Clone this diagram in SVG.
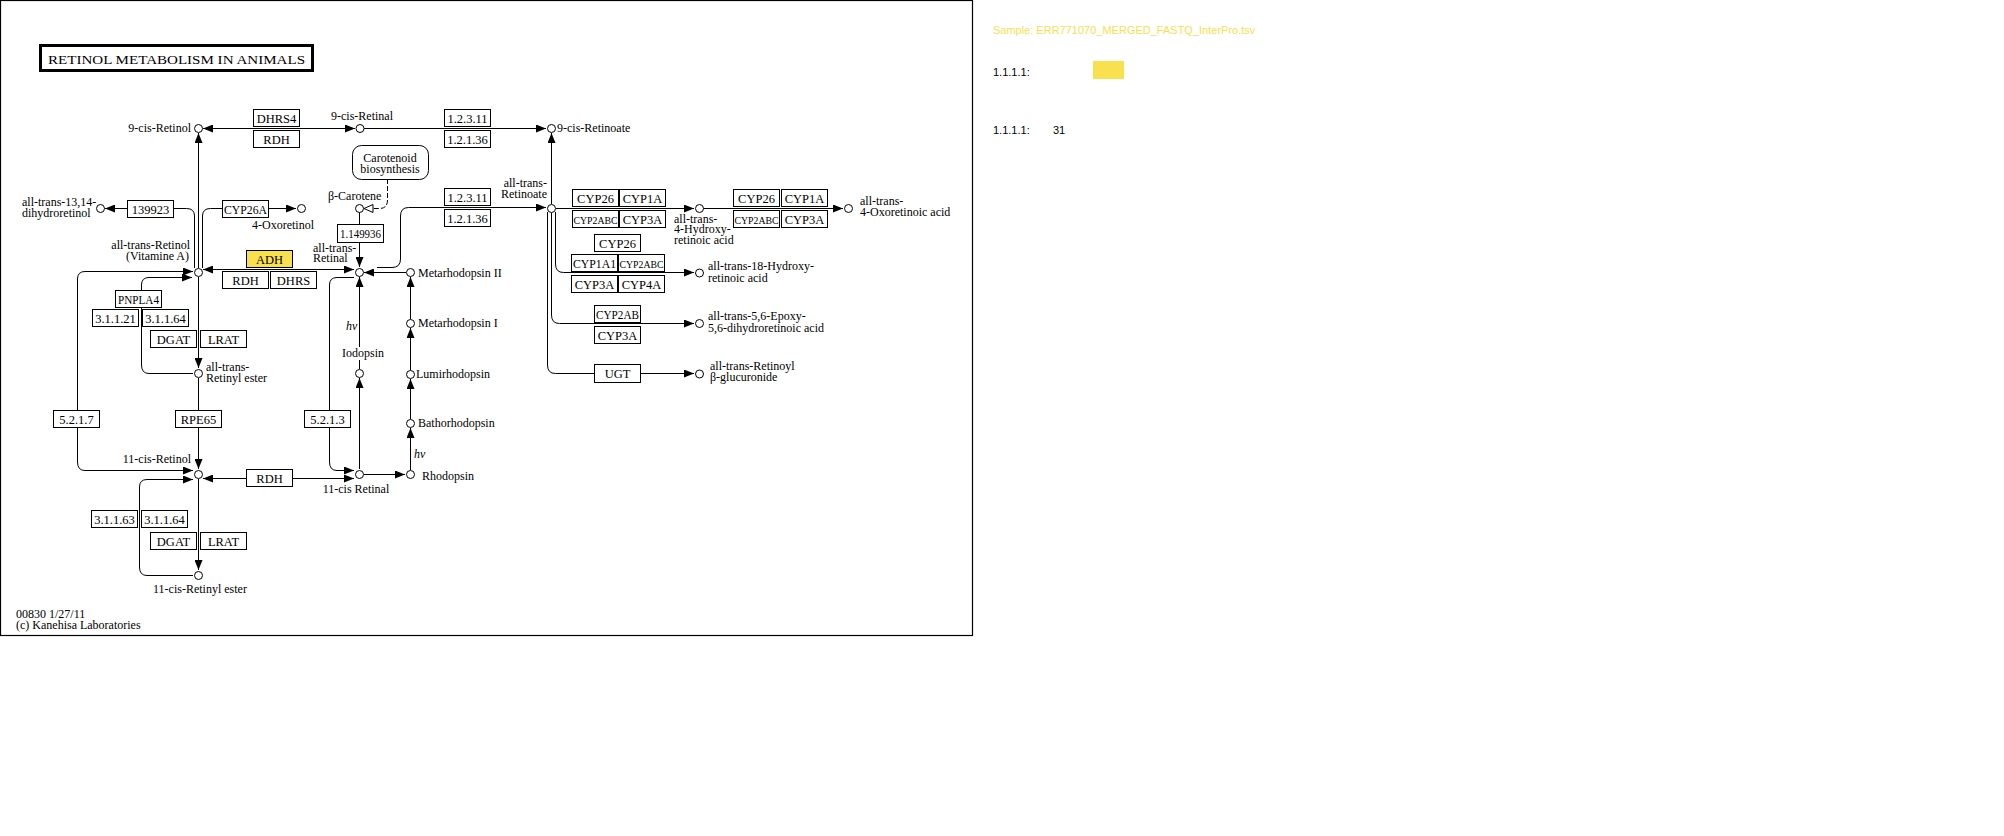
<svg xmlns="http://www.w3.org/2000/svg" width="2004" height="836" viewBox="0 0 2004 836">
<style>
text{font-family:"Liberation Serif","Times New Roman",serif;font-size:12px;fill:#000}
.bx rect{fill:#fff;stroke:#000;stroke-width:1}
.bx text{text-anchor:middle;font-size:12.5px}
.bx text.n{font-size:11.5px}
.bx text.nn{font-size:10.5px}
.hl rect{fill:#f9e04f}
.c circle{fill:#fff;stroke:#000;stroke-width:1}
.e{text-anchor:end}
.m{text-anchor:middle}
.hv{font-style:italic}
#connectors path,#connectors line{fill:none;stroke:#000;stroke-width:1}
.lg{font-family:"Liberation Sans",Arial,sans-serif;font-size:11px}
</style>
<defs>
<marker id="ah" viewBox="0 0 10 8" refX="10" refY="4" markerWidth="10" markerHeight="8" markerUnits="userSpaceOnUse" orient="auto-start-reverse"><path d="M0,0L10,4L0,8z" fill="#000"/></marker>
<marker id="oh" viewBox="-1 -1 11 10" refX="9" refY="4" markerWidth="11" markerHeight="10" markerUnits="userSpaceOnUse" orient="auto"><path d="M0,0L9,4L0,8z" fill="#fff" stroke="#000"/></marker>
</defs>
<rect x="0" y="0" width="2004" height="836" fill="#fff"/>
<rect x="0.5" y="0.5" width="972" height="635" fill="none" stroke="#000" stroke-width="1.2"/>
<g id="title">
<rect x="40.5" y="45.5" width="272" height="25" fill="#fff" stroke="#000" stroke-width="3"/>
<text x="48" y="64" font-size="16" textLength="257" lengthAdjust="spacingAndGlyphs">RETINOL  METABOLISM  IN  ANIMALS</text>
</g>

<g id="connectors">
<line x1="203" y1="128.5" x2="355" y2="128.5" marker-start="url(#ah)" marker-end="url(#ah)"/>
<line x1="364" y1="128.5" x2="546" y2="128.5" marker-end="url(#ah)"/>
<line x1="551.5" y1="204" x2="551.5" y2="133" marker-end="url(#ah)"/>
<line x1="198.5" y1="268" x2="198.5" y2="133" marker-end="url(#ah)"/>
<path d="M194.5,268V216Q194.5,208.5 186.5,208.5H105" marker-end="url(#ah)"/>
<path d="M202.5,268V216Q202.5,208.5 210.5,208.5H296" marker-end="url(#ah)"/>
<line x1="203" y1="269.5" x2="354" y2="269.5" marker-start="url(#ah)" marker-end="url(#ah)"/>
<line x1="359.5" y1="212" x2="359.5" y2="267" marker-end="url(#ah)"/>
<path d="M387.5,179V200Q387.5,208.5 379.5,208.5H364" stroke-dasharray="5,2" marker-end="url(#oh)"/>
<path d="M377,267.5H392Q400.5,267.5 400.5,259V216Q400.5,207.5 408.5,207.5H546" marker-end="url(#ah)"/>
<line x1="406" y1="272.5" x2="364" y2="272.5" marker-end="url(#ah)"/>
<line x1="410.5" y1="319" x2="410.5" y2="277" marker-end="url(#ah)"/>
<line x1="410.5" y1="370" x2="410.5" y2="328" marker-end="url(#ah)"/>
<line x1="410.5" y1="419" x2="410.5" y2="379" marker-end="url(#ah)"/>
<line x1="410.5" y1="470" x2="410.5" y2="428" marker-end="url(#ah)"/>
<line x1="364" y1="474.5" x2="405" y2="474.5" marker-end="url(#ah)"/>
<line x1="359.5" y1="469" x2="359.5" y2="378" marker-end="url(#ah)"/>
<line x1="359.5" y1="347" x2="359.5" y2="277" marker-end="url(#ah)"/>
<line x1="359.5" y1="360" x2="359.5" y2="369"/>
<path d="M354,277.5H337Q329.5,277.5 329.5,285V462Q329.5,470.5 337,470.5H354" marker-end="url(#ah)"/>
<line x1="203" y1="478.5" x2="354" y2="478.5" marker-start="url(#ah)" marker-end="url(#ah)"/>
<line x1="198.5" y1="277" x2="198.5" y2="368" marker-end="url(#ah)"/>
<path d="M193,373.5H149Q141.5,373.5 141.5,365V285Q141.5,277.5 149,277.5H192" marker-end="url(#ah)"/>
<path d="M193,271.5H85Q77.5,271.5 77.5,279V462Q77.5,470.5 85,470.5H193" marker-start="url(#ah)" marker-end="url(#ah)"/>
<line x1="198.5" y1="378" x2="198.5" y2="469" marker-end="url(#ah)"/>
<line x1="198.5" y1="479" x2="198.5" y2="570" marker-end="url(#ah)"/>
<path d="M193,575.5H147Q139.5,575.5 139.5,567V487Q139.5,479.5 147,479.5H193" marker-end="url(#ah)"/>
<line x1="556" y1="208.5" x2="694" y2="208.5" marker-end="url(#ah)"/>
<line x1="703" y1="208.5" x2="843" y2="208.5" marker-end="url(#ah)"/>
<path d="M555.5,212V264Q555.5,272.5 563.5,272.5H694" marker-end="url(#ah)"/>
<path d="M551.5,213V315Q551.5,323.5 559.5,323.5H694" marker-end="url(#ah)"/>
<path d="M547.5,212V365Q547.5,373.5 555.5,373.5H694" marker-end="url(#ah)"/>
</g>

<g id="map-carotenoid">
<rect x="352.5" y="145.5" width="76" height="34" rx="9" fill="#fff" stroke="#000"/>
<text x="390" y="162" class="m">Carotenoid</text>
<text x="390" y="173" class="m">biosynthesis</text>
</g>

<g id="enzymes">
<g id="e-dhrs4" class="bx"><rect x="253.5" y="109.5" width="46" height="17"/><text x="276.5" y="122.5">DHRS4</text></g>
<g id="e-rdh1" class="bx"><rect x="253.5" y="130.5" width="46" height="17"/><text x="276.5" y="143.5">RDH</text></g>
<g id="e-12311a" class="bx"><rect x="444.5" y="109.5" width="46" height="17"/><text x="467.5" y="122.5">1.2.3.11</text></g>
<g id="e-12136a" class="bx"><rect x="444.5" y="130.5" width="46" height="17"/><text x="467.5" y="143.5">1.2.1.36</text></g>
<g id="e-12311b" class="bx"><rect x="444.5" y="188.5" width="46" height="17"/><text x="467.5" y="201.5">1.2.3.11</text></g>
<g id="e-12136b" class="bx"><rect x="444.5" y="209.5" width="46" height="17"/><text x="467.5" y="222.5">1.2.1.36</text></g>
<g id="e-139923" class="bx"><rect x="127.5" y="200.5" width="46" height="17"/><text x="150.5" y="213.5">139923</text></g>
<g id="e-cyp26a" class="bx"><rect x="222.5" y="200.5" width="46" height="17"/><text x="245.5" y="213.5" class="n" textLength="43" lengthAdjust="spacingAndGlyphs">CYP26A</text></g>
<g id="e-1149936" class="bx"><rect x="337.5" y="224.5" width="46" height="18"/><text x="360.5" y="238" class="n" textLength="41" lengthAdjust="spacingAndGlyphs">1.149936</text></g>
<g id="e-adh" class="bx hl"><rect x="246.5" y="250.5" width="46" height="17"/><text x="269.5" y="263.5">ADH</text></g>
<g id="e-rdh2" class="bx"><rect x="222.5" y="271.5" width="46" height="17"/><text x="245.5" y="284.5">RDH</text></g>
<g id="e-dhrs" class="bx"><rect x="270.5" y="271.5" width="46" height="17"/><text x="293.5" y="284.5">DHRS</text></g>
<g id="e-pnpla4" class="bx"><rect x="115.5" y="290.5" width="46" height="17"/><text x="138.5" y="303.5" class="n" textLength="41" lengthAdjust="spacingAndGlyphs">PNPLA4</text></g>
<g id="e-31121" class="bx"><rect x="92.5" y="309.5" width="46" height="17"/><text x="115.5" y="322.5">3.1.1.21</text></g>
<g id="e-31164a" class="bx"><rect x="142.5" y="309.5" width="46" height="17"/><text x="165.5" y="322.5">3.1.1.64</text></g>
<g id="e-dgat1" class="bx"><rect x="150.5" y="330.5" width="46" height="17"/><text x="173.5" y="343.5">DGAT</text></g>
<g id="e-lrat1" class="bx"><rect x="200.5" y="330.5" width="46" height="17"/><text x="223.5" y="343.5">LRAT</text></g>
<g id="e-5217" class="bx"><rect x="53.5" y="410.5" width="46" height="17"/><text x="76.5" y="423.5">5.2.1.7</text></g>
<g id="e-rpe65" class="bx"><rect x="175.5" y="410.5" width="46" height="17"/><text x="198.5" y="423.5">RPE65</text></g>
<g id="e-5213" class="bx"><rect x="304.5" y="410.5" width="46" height="17"/><text x="327.5" y="423.5">5.2.1.3</text></g>
<g id="e-rdh3" class="bx"><rect x="246.5" y="469.5" width="46" height="17"/><text x="269.5" y="482.5">RDH</text></g>
<g id="e-31163" class="bx"><rect x="91.5" y="510.5" width="46" height="17"/><text x="114.5" y="523.5">3.1.1.63</text></g>
<g id="e-31164b" class="bx"><rect x="141.5" y="510.5" width="46" height="17"/><text x="164.5" y="523.5">3.1.1.64</text></g>
<g id="e-dgat2" class="bx"><rect x="150.5" y="532.5" width="46" height="17"/><text x="173.5" y="545.5">DGAT</text></g>
<g id="e-lrat2" class="bx"><rect x="200.5" y="532.5" width="46" height="17"/><text x="223.5" y="545.5">LRAT</text></g>
<g id="e-cyp26-1" class="bx"><rect x="572.5" y="189.5" width="46" height="17"/><text x="595.5" y="202.5">CYP26</text></g>
<g id="e-cyp1a-1" class="bx"><rect x="619.5" y="189.5" width="46" height="17"/><text x="642.5" y="202.5">CYP1A</text></g>
<g id="e-cyp2abc-1" class="bx"><rect x="572.5" y="210.5" width="46" height="17"/><text x="595.5" y="223.5" class="nn" textLength="44" lengthAdjust="spacingAndGlyphs">CYP2ABC</text></g>
<g id="e-cyp3a-1" class="bx"><rect x="619.5" y="210.5" width="46" height="17"/><text x="642.5" y="223.5">CYP3A</text></g>
<g id="e-cyp26-2" class="bx"><rect x="594.5" y="234.5" width="46" height="17"/><text x="617.5" y="247.5">CYP26</text></g>
<g id="e-cyp1a1" class="bx"><rect x="571.5" y="254.5" width="46" height="17"/><text x="594.5" y="267.5" class="n" textLength="43" lengthAdjust="spacingAndGlyphs">CYP1A1</text></g>
<g id="e-cyp2abc-2" class="bx"><rect x="618.5" y="254.5" width="46" height="17"/><text x="641.5" y="267.5" class="nn" textLength="44" lengthAdjust="spacingAndGlyphs">CYP2ABC</text></g>
<g id="e-cyp3a-2" class="bx"><rect x="571.5" y="275.5" width="46" height="17"/><text x="594.5" y="288.5">CYP3A</text></g>
<g id="e-cyp4a" class="bx"><rect x="618.5" y="275.5" width="46" height="17"/><text x="641.5" y="288.5">CYP4A</text></g>
<g id="e-cyp2ab" class="bx"><rect x="594.5" y="305.5" width="46" height="17"/><text x="617.5" y="318.5" class="n" textLength="43" lengthAdjust="spacingAndGlyphs">CYP2AB</text></g>
<g id="e-cyp3a-3" class="bx"><rect x="594.5" y="326.5" width="46" height="17"/><text x="617.5" y="339.5">CYP3A</text></g>
<g id="e-ugt" class="bx"><rect x="594.5" y="364.5" width="46" height="18"/><text x="617.5" y="378">UGT</text></g>
<g id="e-cyp26-3" class="bx"><rect x="733.5" y="189.5" width="46" height="17"/><text x="756.5" y="202.5">CYP26</text></g>
<g id="e-cyp1a-3" class="bx"><rect x="781.5" y="189.5" width="46" height="17"/><text x="804.5" y="202.5">CYP1A</text></g>
<g id="e-cyp2abc-3" class="bx"><rect x="733.5" y="210.5" width="46" height="17"/><text x="756.5" y="223.5" class="nn" textLength="44" lengthAdjust="spacingAndGlyphs">CYP2ABC</text></g>
<g id="e-cyp3a-4" class="bx"><rect x="781.5" y="210.5" width="46" height="17"/><text x="804.5" y="223.5">CYP3A</text></g>
</g>

<g id="compounds" class="c">
<g id="c-9cisretinol"><circle cx="198.5" cy="128.5" r="4"/><text x="191" y="132" class="e">9-cis-Retinol</text></g>
<g id="c-9cisretinal"><circle cx="360" cy="128.5" r="4"/><text x="362" y="120" class="m">9-cis-Retinal</text></g>
<g id="c-9cisretinoate"><circle cx="551.5" cy="128.5" r="4"/><text x="557" y="132">9-cis-Retinoate</text></g>
<g id="c-bcarotene"><circle cx="359.5" cy="208.5" r="4"/><text x="328" y="200">β-Carotene</text></g>
<g id="c-dihydroretinol"><circle cx="100.5" cy="208.5" r="4"/><text x="22" y="206">all-trans-13,14-</text><text x="22" y="217">dihydroretinol</text></g>
<g id="c-4oxoretinol"><circle cx="301.5" cy="208.5" r="4"/><text x="252" y="229">4-Oxoretinol</text></g>
<g id="c-retinol"><circle cx="198.5" cy="272.5" r="4"/><text x="190" y="249" class="e">all-trans-Retinol</text><text x="189" y="260" class="e">(Vitamine A)</text></g>
<g id="c-retinal"><circle cx="359.5" cy="272.5" r="4"/><text x="313" y="252">all-trans-</text><text x="313" y="262">Retinal</text></g>
<g id="c-metarho2"><circle cx="410.5" cy="272.5" r="4"/><text x="418" y="277">Metarhodopsin II</text></g>
<g id="c-metarho1"><circle cx="410.5" cy="323.5" r="4"/><text x="418" y="327">Metarhodopsin I</text></g>
<g id="c-lumirho"><circle cx="410.5" cy="374.5" r="4"/><text x="416" y="378">Lumirhodopsin</text></g>
<g id="c-bathorho"><circle cx="410.5" cy="423.5" r="4"/><text x="418" y="427">Bathorhodopsin</text></g>
<g id="c-rhodopsin"><circle cx="410.5" cy="474.5" r="4"/><text x="422" y="480">Rhodopsin</text></g>
<g id="c-iodopsin"><circle cx="359.5" cy="373.5" r="4"/><text x="363" y="357" class="m">Iodopsin</text></g>
<g id="c-11cisretinal"><circle cx="359.5" cy="474.5" r="4"/><text x="356" y="493" class="m">11-cis Retinal</text></g>
<g id="c-retinylester"><circle cx="198.5" cy="373.5" r="4"/><text x="206" y="371">all-trans-</text><text x="206" y="382">Retinyl ester</text></g>
<g id="c-11cisretinol"><circle cx="198.5" cy="474.5" r="4"/><text x="191" y="463" class="e">11-cis-Retinol</text></g>
<g id="c-11cisretinylester"><circle cx="198.5" cy="575.5" r="4"/><text x="200" y="593" class="m">11-cis-Retinyl ester</text></g>
<g id="c-retinoate"><circle cx="551.5" cy="208.5" r="4"/><text x="547" y="187" class="e">all-trans-</text><text x="547" y="198" class="e">Retinoate</text></g>
<g id="c-4hydroxy"><circle cx="699.5" cy="208.5" r="4"/><text x="674" y="223">all-trans-</text><text x="674" y="233">4-Hydroxy-</text><text x="674" y="244">retinoic acid</text></g>
<g id="c-4oxoretinoic"><circle cx="848.5" cy="208.5" r="4"/><text x="860" y="205">all-trans-</text><text x="860" y="216">4-Oxoretinoic acid</text></g>
<g id="c-18hydroxy"><circle cx="699.5" cy="273" r="4"/><text x="708" y="270">all-trans-18-Hydroxy-</text><text x="708" y="282">retinoic acid</text></g>
<g id="c-epoxy"><circle cx="699.5" cy="323.5" r="4"/><text x="708" y="320">all-trans-5,6-Epoxy-</text><text x="708" y="332">5,6-dihydroretinoic acid</text></g>
<g id="c-glucuronide"><circle cx="699.5" cy="374" r="4"/><text x="710" y="370">all-trans-Retinoyl</text><text x="710" y="381">β-glucuronide</text></g>
</g>

<g id="labels">
<text x="346" y="330" class="hv">hν</text>
<text x="414" y="458" class="hv">hν</text>
<text x="16" y="618">00830 1/27/11</text>
<text x="16" y="629">(c) Kanehisa Laboratories</text>
</g>

<g id="legend">
<text x="993" y="34" class="lg" style="fill:#f9e04f">Sample: ERR771070_MERGED_FASTQ_InterPro.tsv</text>
<text x="993" y="76" class="lg">1.1.1.1:</text>
<rect x="1093" y="61" width="31" height="18" fill="#f9e04f"/>
<text x="993" y="134" class="lg">1.1.1.1:</text>
<text x="1053" y="134" class="lg">31</text>
</g>
</svg>
